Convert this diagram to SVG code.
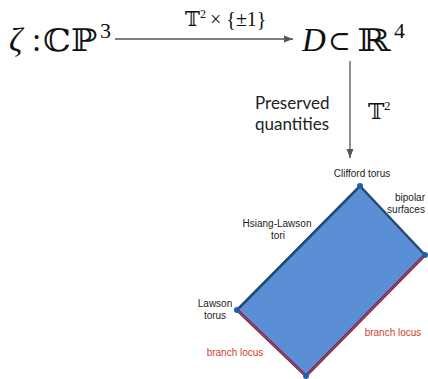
<svg xmlns="http://www.w3.org/2000/svg" width="428" height="379" viewBox="0 0 428 379">
<style>
.math{font-family:"Liberation Serif","DejaVu Serif","DejaVu Sans",serif;fill:#111}
.ds{font-family:"DejaVu Serif","DejaVu Sans",serif;fill:#111}
.big{font-size:33px}
.lbl{font-family:"Liberation Sans",Arial,sans-serif;font-size:10px;fill:#222}
.red{fill:#d0402f}
.pq{font-family:Lato,"Open Sans",sans-serif;font-size:17px;fill:#222}
.arr{stroke:#555;stroke-width:1.3;fill:none}
</style>
<defs>
<marker id="ah" markerWidth="10" markerHeight="8" refX="9" refY="4" orient="auto" markerUnits="userSpaceOnUse">
<path d="M0,0.5 L9,4 L0,7.5 Z" fill="#555"/>
</marker>
</defs>
<g id="source">
<text class="math big" y="51"><tspan x="9" font-style="italic">ζ</tspan><tspan x="32">:</tspan></text>
<text class="ds" font-size="31" transform="translate(43,51) scale(1.13,1)">ℂℙ</text>
<text class="math" font-size="22" x="100" y="38">3</text>
</g>
<g id="target">
<text class="math big" x="302" y="51" font-style="italic">D</text>
<text class="ds" font-size="27" x="328" y="50">⊂</text>
<text class="ds" font-size="31" transform="translate(357,51) scale(1.3,1)">ℝ</text>
<text class="math" font-size="22" x="394" y="38">4</text>
</g>
<g id="preserved">
<text class="pq" x="255" y="109">Preserved</text>
<text class="pq" x="255" y="130">quantities</text>
</g>
<g id="polytope">
<polygon points="360,186 425,255 306,376 237,310" fill="#5a8fd5"/>
<path d="M237,310 L360,186 L425,255" stroke="#234a72" stroke-width="2.5" fill="none" stroke-linejoin="round"/>
<path d="M237,310 L306,376 L425,255" stroke="#4a2a4a" stroke-width="3" fill="none"/>
<path d="M237,310 L306,376 L425,255" stroke="#c8334f" stroke-width="1.6" fill="none"/>
<circle cx="360" cy="186" r="3" fill="#1f5fae"/>
<circle cx="425" cy="255" r="3" fill="#1f5fae"/>
<circle cx="237" cy="310" r="3" fill="#1f5fae"/>
<circle cx="306" cy="376" r="3" fill="#1f5fae"/>
</g>
<g id="labels">
<text class="lbl" x="362" y="177" text-anchor="middle">Clifford torus</text>
<text class="lbl" x="410" y="201" text-anchor="middle">bipolar</text>
<text class="lbl" x="406" y="213" text-anchor="middle">surfaces</text>
<text class="lbl" x="277" y="227" text-anchor="middle">Hsiang-Lawson</text>
<text class="lbl" x="278" y="239" text-anchor="middle">tori</text>
<text class="lbl" x="215" y="307" text-anchor="middle">Lawson</text>
<text class="lbl" x="215" y="319" text-anchor="middle">torus</text>
<text class="lbl red" x="235" y="356" text-anchor="middle">branch locus</text>
<text class="lbl red" x="393" y="336" text-anchor="middle">branch locus</text>
</g>
<g id="connectors">
<line class="arr" x1="115" y1="39" x2="293" y2="39" marker-end="url(#ah)"/>
<text class="ds" font-size="20" x="185" y="26">𝕋</text>
<text class="math" font-size="12" x="200" y="18">2</text>
<text class="math" font-size="20" x="210" y="26">× {±1}</text>
<line class="arr" x1="350" y1="61" x2="350" y2="158" marker-end="url(#ah)"/>
<text class="ds" font-size="22" x="368" y="119">𝕋</text>
<text class="math" font-size="13" x="384" y="110">2</text>
</g>
</svg>
